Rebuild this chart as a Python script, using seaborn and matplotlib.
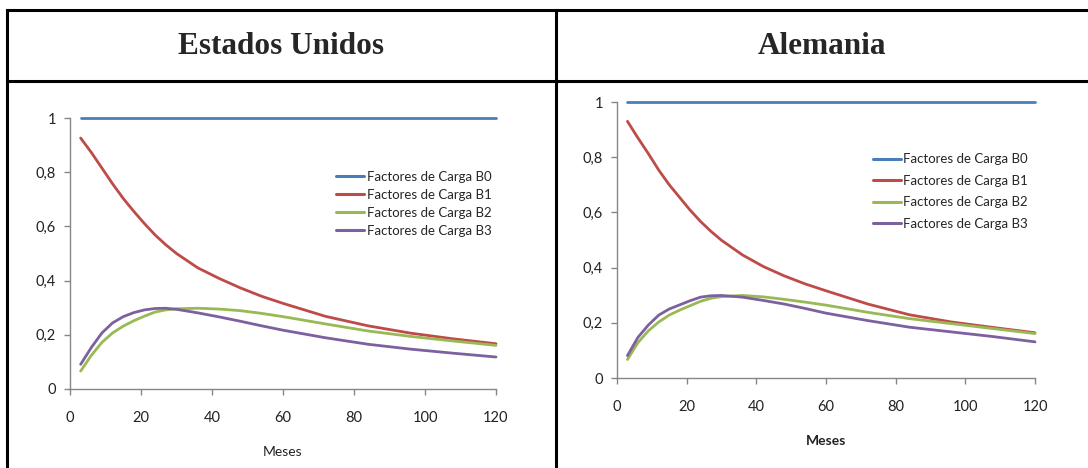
import numpy as np
import pandas as pd
import matplotlib
matplotlib.use("Agg")
import matplotlib.pyplot as plt
import matplotlib.ticker as mticker
from matplotlib.lines import Line2D
import seaborn as sns

# ── Datos ────────────────────────────────────────────────────
meses = [3, 6, 9, 12, 15, 18, 21, 24, 27, 30, 36, 42, 48, 54, 60, 72, 84, 96, 108, 120]

eeuu_b0 = [1.0] * len(meses)
eeuu_b1 = [0.926, 0.873, 0.815, 0.757, 0.703, 0.655, 0.610, 0.568, 0.532, 0.500,
           0.447, 0.408, 0.373, 0.342, 0.316, 0.268, 0.233, 0.206, 0.185, 0.167]
eeuu_b2 = [0.066, 0.124, 0.172, 0.207, 0.232, 0.252, 0.269, 0.284, 0.292, 0.296,
           0.298, 0.295, 0.289, 0.279, 0.267, 0.240, 0.214, 0.194, 0.177, 0.161]
eeuu_b3 = [0.091, 0.153, 0.207, 0.244, 0.267, 0.282, 0.292, 0.297, 0.298, 0.294,
           0.281, 0.266, 0.250, 0.233, 0.217, 0.189, 0.165, 0.147, 0.132, 0.118]

alem_b0 = [1.0] * len(meses)
alem_b1 = [0.930, 0.870, 0.813, 0.753, 0.700, 0.654, 0.608, 0.567, 0.531, 0.499,
           0.446, 0.404, 0.370, 0.341, 0.316, 0.268, 0.229, 0.203, 0.183, 0.164]
alem_b2 = [0.067, 0.128, 0.171, 0.203, 0.228, 0.246, 0.262, 0.278, 0.289, 0.295,
           0.299, 0.294, 0.285, 0.275, 0.264, 0.238, 0.215, 0.197, 0.179, 0.161]
alem_b3 = [0.081, 0.147, 0.192, 0.228, 0.250, 0.265, 0.280, 0.293, 0.298, 0.299,
           0.293, 0.281, 0.268, 0.252, 0.235, 0.208, 0.184, 0.167, 0.150, 0.131]

series = ["Factores de Carga B0", "Factores de Carga B1",
          "Factores de Carga B2", "Factores de Carga B3"]
colores = ["#4A7EBB", "#BE4B48", "#98B954", "#7D60A0"]

x_ticks = [0, 20, 40, 60, 80, 100, 120]
y_ticks = [0, 0.2, 0.4, 0.6, 0.8, 1.0]
y_labels = ["0", "0,2", "0,4", "0,6", "0,8", "1"]


def largo(b0, b1, b2, b3):
    rows = []
    for nombre, vals in zip(series, [b0, b1, b2, b3]):
        for m, v in zip(meses, vals):
            rows.append({"Meses": m, "valor": v, "serie": nombre})
    return pd.DataFrame(rows)


sns.set_theme(style="white")
plt.rcParams["font.family"] = ["Lato", "DejaVu Sans"]

W, H = 1088, 468
fig = plt.figure(figsize=(W / 100, H / 100), dpi=100)


def px_axes(x0, x1, y_top, y_bot):
    return fig.add_axes([x0 / W, 1 - y_bot / H, (x1 - x0) / W, (y_bot - y_top) / H])


# (datos, caja en px, peso de "Meses", posición leyenda, espaciado leyenda)
paneles = [
    (largo(eeuu_b0, eeuu_b1, eeuu_b2, eeuu_b3), (70, 496, 118, 389),
     "normal", (0.613, 0.824), 0.45),
    (largo(alem_b0, alem_b1, alem_b2, alem_b3), (617, 1035, 102, 378),
     "bold", (0.60, 0.833), 0.72),
]

for df, (x0, x1, yt, yb), peso, leg_pos, esp in paneles:
    ax = px_axes(x0, x1, yt, yb)
    sns.lineplot(data=df, x="Meses", y="valor", hue="serie", palette=colores,
                 linewidth=2.0, ax=ax, clip_on=False, legend=True)
    ax.set_xlim(0, 120)
    ax.set_ylim(0, 1)
    ax.set_xticks(x_ticks)
    ax.yaxis.set_major_locator(mticker.FixedLocator(y_ticks))
    ax.set_yticklabels(y_labels)
    for s in ["top", "right"]:
        ax.spines[s].set_visible(False)
    for s in ["left", "bottom"]:
        ax.spines[s].set_color("#868686")
        ax.spines[s].set_linewidth(1.0)
    ax.tick_params(axis="both", direction="out", length=4, width=1.0,
                   color="#868686", labelsize=10.5, labelcolor="#222222")
    ax.tick_params(axis="x", pad=12, bottom=True)
    ax.tick_params(axis="y", pad=6, left=True)
    ax.set_ylabel("")
    ax.set_xlabel("Meses", fontsize=10, fontweight=peso, color="#222222")
    ax.xaxis.label.set_va("center")
    ax.xaxis.set_label_coords(0.5, -63 / (yb - yt))
    leg = ax.legend(loc="upper left", bbox_to_anchor=leg_pos, frameon=False,
                    fontsize=9.5, handlelength=2.1, handletextpad=0.2,
                    labelspacing=esp, borderaxespad=0)
    for h in leg.get_lines():
        h.set_linewidth(2.2)

# ── Marco de la tabla ───────────────────────────────────────
def linea(xs, ys):
    fig.add_artist(Line2D([x / W for x in xs], [1 - y / H for y in ys],
                          transform=fig.transFigure, color="black",
                          linewidth=2.2, solid_capstyle="projecting"))


linea([7, W], [10, 10])
linea([7, W], [81, 81])
linea([7, 7], [10, H])
linea([556, 556], [10, H])

fig.text(281 / W, 1 - 47 / H, "Estados Unidos", ha="center", va="center",
         fontsize=22.5, fontweight="bold", family=["Liberation Serif", "DejaVu Serif"])
fig.text(822 / W, 1 - 47 / H, "Alemania", ha="center", va="center",
         fontsize=22.5, fontweight="bold", family=["Liberation Serif", "DejaVu Serif"])

fig.savefig("out.png", dpi=100)
